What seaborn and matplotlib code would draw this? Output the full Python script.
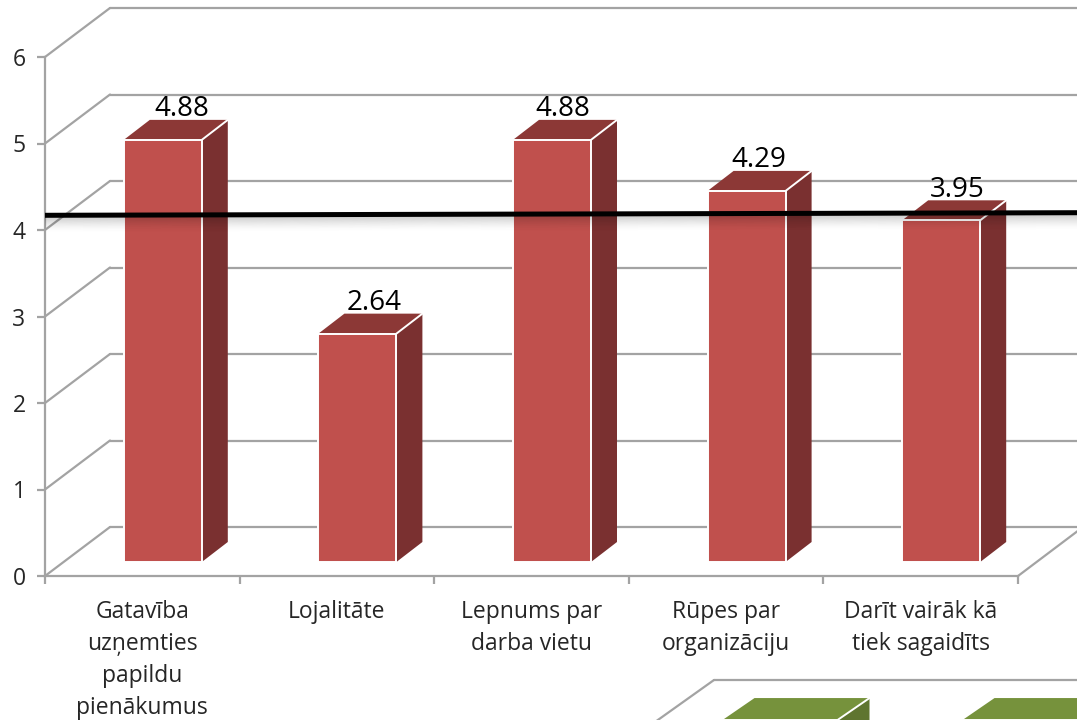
import matplotlib
matplotlib.use("Agg")
import matplotlib.pyplot as plt
import seaborn as sns
from matplotlib.patches import Polygon

categories = [
    "Gatavība\nuzņemties\npapildu\npienākumus",
    "Lojalitāte",
    "Lepnums par\ndarba vietu",
    "Rūpes par\norganizāciju",
    "Darīt vairāk kā\ntiek sagaidīts",
]
values = [4.88, 2.64, 4.88, 4.29, 3.95]
y_ticks = [0, 1, 2, 3, 4, 5, 6]
avg_line = [4.17, 4.20]

# second chart, only the tops of its first two bars show at the bottom edge
lower_categories = ["a", "b"]
lower_values = [5.99, 5.99]

W, H = 1077, 720
GRID = "#a3a3a3"
TEXT = "#262626"
FONT = "Open Sans"
# the value labels were placed by hand in the original, px to the left
LABEL_NUDGE = [1, 3, 9, 8, 4]


def add_axes_px(fig, left, top, right, bottom):
    return fig.add_axes([left / W, 1 - bottom / H, (right - left) / W, (bottom - top) / H])


def draw_chart(ax, cats, vals, ticks, colors, wall, shift, bar_w, depth):
    # px sizes are turned into data units so the 3d faces follow the axes scale
    bbox = ax.get_position()
    ax.set_xlim(-0.5, len(cats) - 0.5)
    ax.set_ylim(ticks[0], ticks[-1])
    ux = bbox.width * W / len(cats)
    uy = bbox.height * H / (ticks[-1] - ticks[0])
    wx, wy = wall[0] / ux, wall[1] / uy
    dx, dy = depth[0] / ux, depth[1] / uy
    x0, x1 = ax.get_xlim()

    for t in ticks:
        ax.plot([x0, x0 + wx], [t, t + wy], color=GRID, lw=1.6, clip_on=False, zorder=1)
        ax.plot([x0 + wx, x1 + wx], [t + wy, t + wy], color=GRID, lw=1.6, clip_on=False, zorder=1)
    ax.plot([x1, x1 + wx], [ticks[0], ticks[0] + wy], color=GRID, lw=1.6, clip_on=False, zorder=1)

    sns.barplot(x=cats, y=vals, color=colors[0], saturation=1, width=bar_w / ux,
                edgecolor="white", linewidth=1.4, ax=ax, zorder=3)

    for bar in ax.patches:
        bar.set_x(bar.get_x() + shift[0] / ux)
        bar.set_y(shift[1] / uy)
        bar.set_clip_on(False)
        xl, xr = bar.get_x(), bar.get_x() + bar.get_width()
        yb, yt = bar.get_y(), bar.get_y() + bar.get_height()
        side = [(xr, yb), (xr + dx, yb + dy), (xr + dx, yt + dy), (xr, yt)]
        top = [(xl, yt), (xl + dx, yt + dy), (xr + dx, yt + dy), (xr, yt)]
        ax.add_patch(Polygon(side, fc=colors[2], ec="none", clip_on=False, zorder=2.5))
        ax.add_patch(Polygon(top, fc=colors[1], ec="none", clip_on=False, zorder=2.5))
        ax.plot([xr, xr + dx], [yt, yt + dy], color="white", lw=1.4, clip_on=False, zorder=3.5)

    ax.set_xticks([x0 + i for i in range(len(cats) + 1)], labels=[""] * (len(cats) + 1))
    ax.set_yticks(ticks)
    ax.set_xlabel("")
    ax.set_ylabel("")
    ax.patch.set_alpha(0)
    sns.despine(ax=ax, top=True, right=True)
    for s in ("left", "bottom"):
        ax.spines[s].set_color(GRID)
        ax.spines[s].set_linewidth(1.6)
    ax.tick_params(axis="both", length=6, width=1.6, color=GRID, labelcolor=TEXT,
                   left=True, bottom=True)
    return ux, uy, dx, dy


sns.set_theme(style="white")
plt.rcParams["font.family"] = [FONT, "DejaVu Sans"]

fig = plt.figure(figsize=(W / 100, H / 100), dpi=100, facecolor="white")

ax2 = add_axes_px(fig, 634, 737, 1114, 1367)
draw_chart(ax2, lower_categories, lower_values, y_ticks,
           ("#76923C", "#76923C", "#5F7530"), (80, 57), (26, 18), 115, (32, 22))
ax2.tick_params(axis="y", labelleft=False)

ax = add_axes_px(fig, 45, 57, 1018, 576)
ux, uy, dx, dy = draw_chart(ax, categories, values, y_ticks,
                            ("#C0504D", "#8C3836", "#7A3030"), (65, 49), (20.5, 14), 78, (26, 20))
ax.tick_params(axis="y", labelsize=16.5, pad=8)

# category labels sit between the tick marks
for i, label in enumerate(categories):
    ax.annotate(label, (i, 0), xytext=(0, -17), textcoords="offset points", ha="center", va="top",
                fontsize=16.5, color=TEXT, linespacing=1.45, annotation_clip=False)

for bar, val, nudge in zip(ax.patches[:len(values)], values, LABEL_NUDGE):
    ax.annotate(f"{val:.2f}", (bar.get_x() + bar.get_width() / 2 + (20 - nudge) / ux, bar.get_y() + bar.get_height() + dy),
                xytext=(0, -2.5), textcoords="offset points", ha="center", va="bottom",
                fontsize=20, color="black", zorder=4, annotation_clip=False)

# hand-drawn average line, runs past the plot to the image edge
line_end = (W - 45) / ux - 0.5
for i in range(1, 16):
    off = (i + 1) / uy
    ax.plot([-0.5, line_end], [avg_line[0] - off, avg_line[1] - off], color="black",
            lw=1, alpha=0.16 * (1 - i / 16) ** 1.5, clip_on=False, zorder=5, solid_capstyle="butt")
ax.plot([-0.5, line_end], avg_line, color="black", lw=3.6, clip_on=False, zorder=6, solid_capstyle="butt")

fig.savefig("out.png", dpi=100)
